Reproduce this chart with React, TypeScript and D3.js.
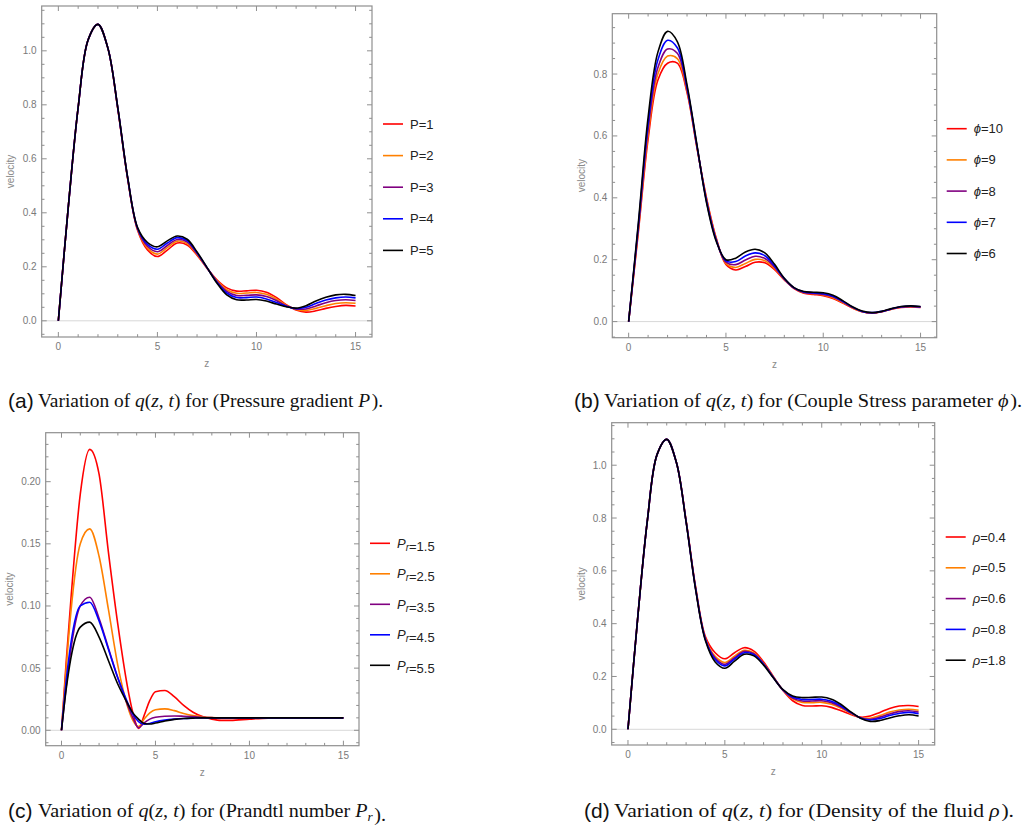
import React from 'react';
import * as d3 from 'd3';

// ---------- data ----------
const Z = [0, 0.5, 1, 1.5, 2, 2.5, 3, 3.5, 4, 4.5, 5, 5.5, 6, 6.5, 7, 7.5, 8, 8.5, 9, 9.5, 10, 10.5, 11, 11.5, 12, 12.5, 13, 13.5, 14, 14.5, 15];
const Z_C = [0, 0.25, 0.5, 1, 1.5, 2, 2.5, 3, 3.5, 3.8, 4.1, 4.4, 4.7, 5, 5.5, 6, 6.5, 7, 7.5, 8, 8.5, 9, 10, 11, 12, 13, 14, 15];

// (a) pressure gradient P
const A_P1 = [0, 0.42, 0.79, 1.04, 1.098, 1.01, 0.785, 0.525, 0.335, 0.262, 0.238, 0.262, 0.288, 0.281, 0.243, 0.195, 0.152, 0.122, 0.11, 0.111, 0.113, 0.106, 0.087, 0.06, 0.04, 0.032, 0.037, 0.046, 0.053, 0.057, 0.055];
const A_P2 = [0, 0.42, 0.79, 1.04, 1.098, 1.01, 0.787, 0.527, 0.338, 0.269, 0.247, 0.271, 0.295, 0.286, 0.246, 0.196, 0.149, 0.115, 0.102, 0.103, 0.105, 0.098, 0.081, 0.058, 0.042, 0.038, 0.046, 0.056, 0.064, 0.067, 0.065];
const A_P3 = [0, 0.42, 0.79, 1.04, 1.098, 1.01, 0.788, 0.528, 0.34, 0.276, 0.256, 0.279, 0.301, 0.292, 0.249, 0.197, 0.146, 0.109, 0.094, 0.094, 0.096, 0.09, 0.075, 0.056, 0.044, 0.044, 0.055, 0.067, 0.075, 0.078, 0.075];
const A_P4 = [0, 0.42, 0.79, 1.04, 1.098, 1.01, 0.789, 0.529, 0.343, 0.283, 0.265, 0.288, 0.308, 0.297, 0.252, 0.197, 0.143, 0.103, 0.086, 0.086, 0.088, 0.081, 0.068, 0.054, 0.045, 0.05, 0.064, 0.077, 0.085, 0.088, 0.085];
const A_P5 = [0, 0.42, 0.79, 1.04, 1.098, 1.01, 0.79, 0.53, 0.345, 0.29, 0.274, 0.296, 0.314, 0.302, 0.255, 0.198, 0.14, 0.096, 0.078, 0.077, 0.079, 0.073, 0.062, 0.052, 0.047, 0.056, 0.073, 0.087, 0.096, 0.098, 0.094];
const A_LABELS = ['1', '2', '3', '4', '5'];

// (b) couple stress parameter phi
const B_10 = [0, 0.29, 0.59, 0.78, 0.835, 0.835, 0.74, 0.565, 0.4, 0.27, 0.185, 0.167, 0.178, 0.192, 0.19, 0.168, 0.135, 0.107, 0.092, 0.088, 0.084, 0.075, 0.06, 0.044, 0.032, 0.028, 0.032, 0.04, 0.046, 0.047, 0.046];
const B_9 = [0, 0.297, 0.605, 0.8, 0.858, 0.85, 0.745, 0.567, 0.397, 0.268, 0.188, 0.175, 0.188, 0.201, 0.197, 0.172, 0.136, 0.108, 0.093, 0.09, 0.086, 0.077, 0.062, 0.045, 0.032, 0.028, 0.032, 0.04, 0.047, 0.048, 0.047];
const B_8 = [0, 0.304, 0.622, 0.82, 0.881, 0.867, 0.751, 0.57, 0.393, 0.265, 0.192, 0.184, 0.199, 0.211, 0.204, 0.176, 0.137, 0.108, 0.094, 0.091, 0.088, 0.08, 0.064, 0.046, 0.033, 0.028, 0.032, 0.041, 0.047, 0.049, 0.047];
const B_7 = [0, 0.312, 0.64, 0.845, 0.909, 0.885, 0.758, 0.572, 0.389, 0.263, 0.196, 0.194, 0.212, 0.222, 0.213, 0.18, 0.139, 0.109, 0.096, 0.093, 0.09, 0.082, 0.066, 0.047, 0.033, 0.029, 0.033, 0.041, 0.048, 0.05, 0.048];
const B_6 = [0, 0.32, 0.66, 0.87, 0.938, 0.905, 0.765, 0.575, 0.385, 0.26, 0.2, 0.205, 0.225, 0.234, 0.222, 0.185, 0.14, 0.11, 0.097, 0.095, 0.093, 0.085, 0.068, 0.048, 0.034, 0.029, 0.033, 0.042, 0.049, 0.051, 0.049];
const B_LABELS = ['10', '9', '8', '7', '6'];

// (c) Prandtl number Pr
const C_15 = [0, 0.055, 0.105, 0.19, 0.226, 0.206, 0.143, 0.085, 0.036, 0.014, 0.0015, 0.012, 0.024, 0.031, 0.032, 0.027, 0.02, 0.0145, 0.011, 0.009, 0.008, 0.008, 0.009, 0.0098, 0.01, 0.01, 0.01, 0.01];
const C_25 = [0, 0.05, 0.095, 0.15, 0.162, 0.14, 0.097, 0.052, 0.02, 0.008, 0.003, 0.009, 0.014, 0.0165, 0.0172, 0.0158, 0.0135, 0.0118, 0.0108, 0.0102, 0.0099, 0.0098, 0.0099, 0.01, 0.01, 0.01, 0.01, 0.01];
const C_35 = [0, 0.035, 0.065, 0.1, 0.107, 0.09, 0.066, 0.042, 0.021, 0.01, 0.002, 0.006, 0.009, 0.0105, 0.0113, 0.0115, 0.0113, 0.011, 0.0105, 0.0102, 0.01, 0.01, 0.01, 0.01, 0.01, 0.01, 0.01, 0.01];
const C_45 = [0, 0.04, 0.07, 0.1, 0.103, 0.088, 0.065, 0.042, 0.023, 0.013, 0.007, 0.0048, 0.0055, 0.0068, 0.0082, 0.009, 0.0095, 0.0098, 0.01, 0.01, 0.01, 0.01, 0.01, 0.01, 0.01, 0.01, 0.01, 0.01];
const C_55 = [0, 0.033, 0.058, 0.083, 0.087, 0.075, 0.056, 0.037, 0.022, 0.014, 0.009, 0.0055, 0.005, 0.0058, 0.0075, 0.0088, 0.0095, 0.0098, 0.01, 0.01, 0.01, 0.01, 0.01, 0.01, 0.01, 0.01, 0.01, 0.01];
const C_LABELS = ['1.5', '2.5', '3.5', '4.5', '5.5'];

// (d) density rho
const D_04 = [0, 0.42, 0.79, 1.04, 1.098, 1.01, 0.79, 0.535, 0.35, 0.29, 0.267, 0.29, 0.309, 0.296, 0.255, 0.2, 0.147, 0.108, 0.09, 0.088, 0.089, 0.083, 0.07, 0.056, 0.046, 0.05, 0.064, 0.079, 0.088, 0.09, 0.086];
const D_05 = [0, 0.42, 0.79, 1.04, 1.098, 1.01, 0.788, 0.531, 0.344, 0.276, 0.253, 0.277, 0.299, 0.289, 0.25, 0.198, 0.148, 0.115, 0.102, 0.101, 0.102, 0.095, 0.08, 0.06, 0.044, 0.042, 0.052, 0.065, 0.073, 0.076, 0.072];
const D_06 = [0, 0.42, 0.79, 1.04, 1.098, 1.01, 0.787, 0.529, 0.341, 0.27, 0.246, 0.271, 0.295, 0.286, 0.248, 0.197, 0.149, 0.118, 0.107, 0.107, 0.108, 0.101, 0.084, 0.062, 0.044, 0.038, 0.046, 0.058, 0.067, 0.07, 0.065];
const D_08 = [0, 0.42, 0.79, 1.04, 1.098, 1.01, 0.786, 0.528, 0.339, 0.264, 0.24, 0.266, 0.29, 0.282, 0.246, 0.196, 0.149, 0.122, 0.113, 0.113, 0.114, 0.106, 0.088, 0.064, 0.043, 0.035, 0.041, 0.052, 0.06, 0.064, 0.059];
const D_18 = [0, 0.42, 0.79, 1.04, 1.098, 1.01, 0.785, 0.525, 0.335, 0.255, 0.231, 0.258, 0.284, 0.278, 0.243, 0.195, 0.15, 0.126, 0.12, 0.121, 0.122, 0.114, 0.094, 0.066, 0.042, 0.03, 0.033, 0.043, 0.051, 0.055, 0.05];
const D_LABELS = ['0.4', '0.5', '0.6', '0.8', '1.8'];

// ticks
const X_MAJOR = [0, 5, 10, 15];
const X_MINOR = [1, 2, 3, 4, 6, 7, 8, 9, 11, 12, 13, 14];
const Y_MAJOR_A = [0, 0.2, 0.4, 0.6, 0.8, 1.0];
const Y_MAJOR_B = [0, 0.2, 0.4, 0.6, 0.8];
const Y_MAJOR_C = [0, 0.05, 0.1, 0.15, 0.2];

const COLORS = ['#ff0000', '#ff8000', '#800080', '#0000ff', '#000000'];

const SANS = 'Liberation Sans, Arial, sans-serif';
const SERIF = 'Liberation Serif, Times New Roman, serif';

type Cfg = {
  l: number; r: number; t: number; b: number;
  xDomain: [number, number]; yDomain: [number, number];
  z: number[]; series: number[][];
  yMajor: number[]; yMinorStep: number; yDec: number;
  curve: any;
  labels: string[]; sym: (i: number) => React.ReactNode;
  legX: number; legY: number; legStep: number;
  vOff: number;
};

function Panel({ c }: { c: Cfg }) {
  const x = d3.scaleLinear().domain(c.xDomain).range([c.l, c.r]);
  const y = d3.scaleLinear().domain(c.yDomain).range([c.b, c.t]);
  const line = d3.line<number>().x((_, i) => x(c.z[i])).y((d) => y(d)).curve(c.curve);
  const minors: number[] = [];
  const lo = Math.ceil(c.yDomain[0] / c.yMinorStep);
  const hi = Math.floor(c.yDomain[1] / c.yMinorStep);
  for (let k = lo; k <= hi; k++) {
    const v = +(k * c.yMinorStep).toFixed(6);
    if (!c.yMajor.some((m) => Math.abs(m - v) < 1e-9)) minors.push(v);
  }
  const frame = '#8f8f8f';
  const tickCol = '#8f8f8f';
  const lblCol = '#7a7a7a';
  const MJ = 5, MN = 2.8;
  return (
    <g>
      <line x1={c.l} x2={c.r} y1={y(0)} y2={y(0)} stroke="#d8d8d8" strokeWidth={1} />
      {c.series.map((s, i) => (
        <path key={i} d={line(s) || ''} fill="none" stroke={COLORS[i]} strokeWidth={1.6} />
      ))}
      <rect x={c.l} y={c.t} width={c.r - c.l} height={c.b - c.t} fill="none" stroke={frame} strokeWidth={1.2} />
      {X_MAJOR.map((v) => (
        <g key={'xm' + v}>
          <line x1={x(v)} x2={x(v)} y1={c.b} y2={c.b - MJ} stroke={tickCol} />
          <line x1={x(v)} x2={x(v)} y1={c.t} y2={c.t + MJ} stroke={tickCol} />
          <text x={x(v)} y={c.b + 13} textAnchor="middle" fontFamily={SANS} fontSize={10} fill={lblCol}>{v}</text>
        </g>
      ))}
      {X_MINOR.map((v) => (
        <g key={'xn' + v}>
          <line x1={x(v)} x2={x(v)} y1={c.b} y2={c.b - MN} stroke={tickCol} />
          <line x1={x(v)} x2={x(v)} y1={c.t} y2={c.t + MN} stroke={tickCol} />
        </g>
      ))}
      {c.yMajor.map((v) => (
        <g key={'ym' + v}>
          <line x1={c.l} x2={c.l + MJ} y1={y(v)} y2={y(v)} stroke={tickCol} />
          <line x1={c.r} x2={c.r - MJ} y1={y(v)} y2={y(v)} stroke={tickCol} />
          <text x={c.l - 5} y={y(v) + 3.5} textAnchor="end" fontFamily={SANS} fontSize={10} fill={lblCol}>{v.toFixed(c.yDec)}</text>
        </g>
      ))}
      {minors.map((v) => (
        <g key={'yn' + v}>
          <line x1={c.l} x2={c.l + MN} y1={y(v)} y2={y(v)} stroke={tickCol} />
          <line x1={c.r} x2={c.r - MN} y1={y(v)} y2={y(v)} stroke={tickCol} />
        </g>
      ))}
      <text x={(c.l + c.r) / 2} y={c.b + 30} textAnchor="middle" fontFamily={SANS} fontSize={10} fill="#8a8a8a">z</text>
      <text transform={`translate(${c.l - c.vOff},${(c.t + c.b) / 2}) rotate(-90)`} textAnchor="middle" fontFamily={SANS} fontSize={10} fill="#8a8a8a">velocity</text>
      {c.labels.map((lab, i) => (
        <g key={'lg' + i}>
          <line x1={c.legX} x2={c.legX + 20} y1={c.legY + i * c.legStep} y2={c.legY + i * c.legStep} stroke={COLORS[i]} strokeWidth={1.6} />
          <text x={c.legX + 27} y={c.legY + i * c.legStep + 4.5} fontFamily={SANS} fontSize={13} fill="#222">
            {c.sym(i)}={lab}
          </text>
        </g>
      ))}
    </g>
  );
}

function Caption({ x, y, tag, len, children }: { x: number; y: number; tag: string; len: number; children: React.ReactNode }) {
  return (
    <g>
      <text x={x} y={y + 1} fontFamily={SANS} fontSize={21} fill="#111">({tag})</text>
      <text x={x + 30} y={y} fontFamily={SERIF} fontSize={19.5} fill="#111" textLength={len} lengthAdjust="spacingAndGlyphs">
        <tspan>Variation of </tspan>
        <tspan fontStyle="italic">q</tspan>
        <tspan>(</tspan>
        <tspan fontStyle="italic">z</tspan>
        <tspan>, </tspan>
        <tspan fontStyle="italic">t</tspan>
        <tspan>) for (</tspan>
        {children}
        <tspan dx={1.5}>).</tspan>
      </text>
    </g>
  );
}

export default function App() {
  const XD: [number, number] = [-0.84, 15.83];
  const catmull = d3.curveCatmullRom.alpha(0.5);
  const panels: Cfg[] = [
    {
      l: 41.7, r: 372, t: 6, b: 337, xDomain: XD, yDomain: [-0.06, 1.166], z: Z,
      series: [A_P1, A_P2, A_P3, A_P4, A_P5], yMajor: Y_MAJOR_A, yMinorStep: 0.05, yDec: 1, curve: catmull,
      labels: A_LABELS, sym: () => <tspan>P</tspan>, legX: 383, legY: 124, legStep: 31.6, vOff: 28,
    },
    {
      l: 612.3, r: 936.7, t: 13.7, b: 337.7, xDomain: XD, yDomain: [-0.052, 0.995], z: Z,
      series: [B_10, B_9, B_8, B_7, B_6], yMajor: Y_MAJOR_B, yMinorStep: 0.05, yDec: 1, curve: catmull,
      labels: B_LABELS, sym: () => <tspan fontStyle="italic">ϕ</tspan>, legX: 946.7, legY: 128.7, legStep: 31.2, vOff: 27.3,
    },
    {
      l: 45.7, r: 359, t: 432.7, b: 745.7, xDomain: XD, yDomain: [-0.0124, 0.2394], z: Z_C,
      series: [C_15, C_25, C_35, C_45, C_55], yMajor: Y_MAJOR_C, yMinorStep: 0.01, yDec: 2, curve: d3.curveMonotoneX,
      labels: C_LABELS,
      sym: () => (<><tspan fontStyle="italic">P</tspan><tspan fontStyle="italic" fontSize={10} dy={3}>r</tspan><tspan dy={-3}></tspan></>),
      legX: 370, legY: 543.3, legStep: 30.5, vOff: 32.4,
    },
    {
      l: 611.7, r: 934.7, t: 422.7, b: 745, xDomain: XD, yDomain: [-0.0595, 1.161], z: Z,
      series: [D_04, D_05, D_06, D_08, D_18], yMajor: Y_MAJOR_A, yMinorStep: 0.05, yDec: 1, curve: catmull,
      labels: D_LABELS, sym: () => <tspan fontStyle="italic">ρ</tspan>, legX: 945.7, legY: 537, legStep: 30.8, vOff: 26.7,
    },
  ];
  return (
    <svg width={1028} height={827} style={{ position: 'absolute', left: 0, top: 0, background: '#fff' }}>
      <rect x={0} y={0} width={1028} height={827} fill="#fff" />
      {panels.map((p, i) => <Panel key={i} c={p} />)}
      <Caption x={8} y={407} tag="a" len={345}>
        <tspan>Pressure gradient </tspan><tspan fontStyle="italic">P</tspan>
      </Caption>
      <Caption x={574} y={407} tag="b" len={418}>
        <tspan>Couple Stress parameter </tspan><tspan fontStyle="italic">ϕ</tspan>
      </Caption>
      <Caption x={8} y={817} tag="c" len={348}>
        <tspan>Prandtl number </tspan><tspan fontStyle="italic">P</tspan><tspan fontStyle="italic" fontSize={13} dy={3.5}>r</tspan><tspan dy={-3.5}></tspan>
      </Caption>
      <Caption x={584} y={817} tag="d" len={400}>
        <tspan>Density of the fluid </tspan><tspan fontStyle="italic">ρ</tspan>
      </Caption>
    </svg>
  );
}
